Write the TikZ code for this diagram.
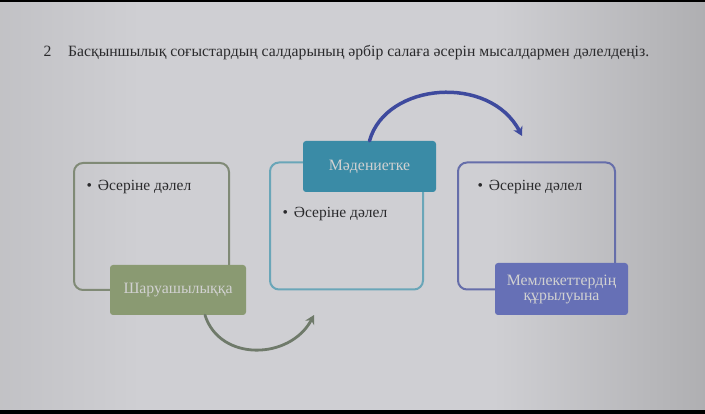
\documentclass[tikz,border=0pt]{standalone}
\usepackage{fontspec}
\setmainfont{Liberation Serif}
\usetikzlibrary{arrows.meta}
\definecolor{scrA}{HTML}{A0A0A3}
\definecolor{scrB}{HTML}{CFCFD3}
\definecolor{scrC}{HTML}{9C9C9E}
\definecolor{scrD}{HTML}{555555}
\definecolor{olivefill}{HTML}{8A9A72}
\definecolor{oliveline}{HTML}{808A76}
\definecolor{tealfill}{HTML}{3A8BA6}
\definecolor{tealline}{HTML}{6AA6B8}
\definecolor{bluefill}{HTML}{6670B6}
\definecolor{blueline}{HTML}{666EAA}
\definecolor{bluearrow}{HTML}{3E4A9E}
\definecolor{grayarrow}{HTML}{6F7A6A}
\definecolor{inktext}{HTML}{2A2A2C}
\pgfdeclarehorizontalshading{screenshade}{100bp}{color(0bp)=(scrA); color(35bp)=(scrB); color(60bp)=(scrB); color(84bp)=(scrC); color(100bp)=(scrD)}
\begin{document}
\begin{tikzpicture}[x=1pt, y=-1pt,
    frame/.style={draw, line width=2pt, rounded corners=9pt, minimum width=#1, minimum height=127pt, inner sep=0pt},
    label/.style={rounded corners=3pt, text=white!82!black, align=center, inner sep=0pt, font=\fontsize{15.8}{16}\selectfont},
    bullet/.style={anchor=west, text=inktext, font=\fontsize{15.5}{17}\selectfont},
    bend/.style={line width=#1, line cap=round, -{Stealth[length=9pt, width=10pt]}}]
  \fill[black] (0, 0) rectangle (705, 414);
  \fill[shading=screenshade] (0, 3) rectangle (705, 409);
  \useasboundingbox (0, 0) rectangle (705, 414);

  \node[anchor=base west, text=inktext, font=\fontsize{15.7}{17}\selectfont] (num) at (40, 57) {2};
  \node[anchor=base west, text=inktext, font=\fontsize{15.7}{17}\selectfont, inner sep=0pt] (task) at (68, 57)
    {Басқыншылық соғыстардың салдарының әрбір салаға әсерін мысалдармен дәлелдеңіз.};

  \node[frame=155pt, draw=oliveline] (box1) at (151.5, 226.5) {};
  \node[frame=153pt, draw=tealline] (box2) at (346.5, 226) {};
  \node[frame=157pt, draw=blueline] (box3) at (536.5, 226) {};

  \node[label, fill=olivefill, minimum width=136pt, minimum height=50pt] (lab1) at (178, 290) {Шаруашылыққа};
  \node[label, fill=tealfill, minimum width=133pt, minimum height=51pt] (lab2) at (369.5, 166.5) {Мәдениетке};
  \node[label, fill=bluefill, minimum width=133pt, minimum height=52pt] (lab3) at (561.5, 289)
    {Мемлекеттердің\\[-1pt]құрылуына};

  \node[bullet] (note1) at (83, 187) {\textbullet\hspace{6pt}Әсеріне дәлел};
  \node[bullet] (note2) at (279, 214) {\textbullet\hspace{6pt}Әсеріне дәлел};
  \node[bullet] (note3) at (474, 187) {\textbullet\hspace{6pt}Әсеріне дәлел};

  \coordinate (topend) at (522, 136);
  \coordinate (botstart) at ([xshift=27pt]lab1.south);
  \coordinate (botend) at (314, 315);
  \draw[bend=3.5pt, bluearrow] (lab2.north) .. controls (386, 82) and (490, 74) .. (topend);
  \draw[bend=2.8pt, grayarrow] (botstart) .. controls (220, 362) and (290, 360) .. (botend);
\end{tikzpicture}
\end{document}
